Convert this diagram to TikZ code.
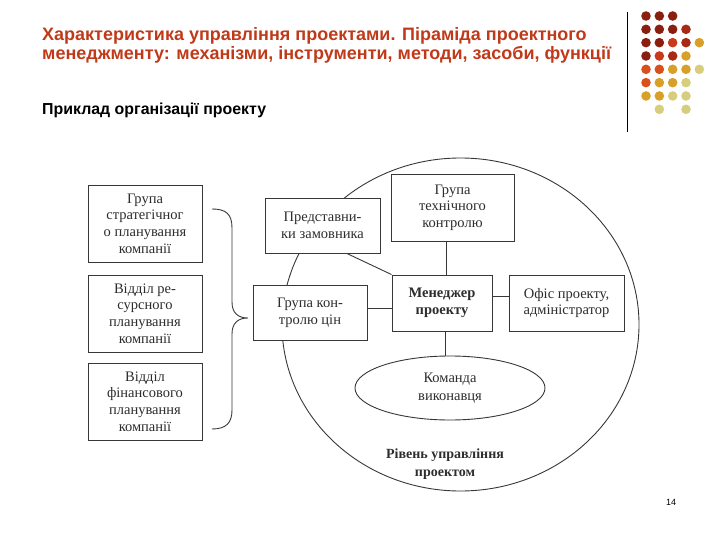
\documentclass[tikz,border=0pt]{standalone}
\usepackage{fontspec}
\setmainfont{Liberation Serif}
\newfontfamily\ttlfont{Liberation Sans}
\usetikzlibrary{calc,shapes.geometric}
\definecolor{ttlred}{RGB}{192,58,26}
\definecolor{lc}{RGB}{55,55,55}
\definecolor{tc}{RGB}{45,45,45}
\definecolor{dA}{RGB}{138,30,15}
\definecolor{dB}{RGB}{168,42,20}
\definecolor{dC}{RGB}{200,58,26}
\definecolor{dD}{RGB}{216,80,28}
\definecolor{dE}{RGB}{216,160,40}
\definecolor{dF}{RGB}{214,206,126}
\tikzset{
  box/.style={draw=lc, line width=0.9pt, fill=white, align=center, text=tc,
    font=\fontsize{14.5}{16.7}\selectfont, inner sep=0pt},
  conn/.style={draw=lc, line width=0.9pt},
  dot/.style={circle, inner sep=0pt, minimum size=9.6pt},
  ttl/.style={anchor=base west, text=ttlred, font=\ttlfont\bfseries\fontsize{18}{20}\selectfont, inner sep=0pt},
}
\begin{document}
\begin{tikzpicture}[x=1pt,y=-1pt]
\useasboundingbox (0,0) rectangle (720,540);
% title
\node[ttl] (t1) at (42,40.5) {Характеристика управління проектами. Піраміда проектного};
\node[ttl] (t2) at (42,59.5) {менеджменту: механізми, інструменти, методи, засоби, функції};
\node[anchor=base west, text=black, font=\ttlfont\bfseries\fontsize{15.9}{18}\selectfont, inner sep=0pt] (sub) at (42,115) {Приклад організації проекту};
\node[anchor=center, text=black, font=\ttlfont\fontsize{9}{11}\selectfont, inner sep=0pt] (pg) at (671,502) {14};
% vertical line
\coordinate (v1) at (627,12);
\coordinate (v2) at (627,132);
\draw[line width=1pt] (v1) -- (v2);
% dots
\foreach \r/\cols in {1/{1/dA,2/dA,3/dA},
                      2/{1/dA,2/dA,3/dA,4/dB},
                      3/{1/dA,2/dA,3/dC,4/dB,5/dE},
                      4/{1/dA,2/dC,3/dB,4/dE},
                      5/{1/dD,2/dD,3/dE,4/dE,5/dF},
                      6/{1/dD,2/dE,3/dE,4/dF},
                      7/{1/dE,2/dE,3/dF,4/dF},
                      8/{2/dF,4/dF}}{
  \foreach \c/\col in \cols {
    \node[dot, fill=\col] (d\r\c) at ({646+13.33*(\c-1)},{16+13.33*(\r-1)}) {};
  }
}
% big circle
\draw[lc, line width=0.9pt] (460.5,324.5) ellipse [x radius=178.5, y radius=166.5];
% left boxes
\node[box, minimum width=114pt, minimum height=77pt] (b1) at (145,223.5) {Група\\стратегічног\\о планування\\компанії};
\node[box, minimum width=114pt, minimum height=77pt] (b2) at (145,313.5) {Відділ ре-\\сурсного\\планування\\компанії};
\node[box, minimum width=114pt, minimum height=77pt] (b3) at (145,401.5) {Відділ\\фінансового\\планування\\компанії};
% brace
\draw[lc, line width=0.9pt] (212,209) .. controls (226,209) and (232,214) .. (232,228) -- (232,302)
  .. controls (232,313) and (238,318) .. (248,318)
  .. controls (238,318) and (232,323) .. (232,334) -- (232,410)
  .. controls (232,423) and (226,429) .. (212,429);
% inner boxes
\node[box, minimum width=115pt, minimum height=55pt] (pred) at (322.5,225.5) {Представни-\\ки замовника};
\node[box, minimum width=114pt, minimum height=55pt] (kontr) at (310,312.5) {Група кон-\\тролю цін};
\node[box, minimum width=123pt, minimum height=67pt] (tech) at (452.5,207.5) {Група\\технічного\\контролю};
\node[box, minimum width=100pt, minimum height=56pt, font=\bfseries\fontsize{14.5}{16.7}\selectfont] (men) at (442,303) {Менеджер\\проекту};
\node[box, minimum width=115pt, minimum height=56pt] (ofis) at (566.5,303) {Офіс проекту,\\адміністратор};
\node[box, ellipse, minimum width=190pt, minimum height=64pt, font=\fontsize{14.5}{18}\selectfont] (team) at (450,388) {Команда\\виконавця};
\node[align=center, text=tc, font=\bfseries\fontsize{14}{18}\selectfont, inner sep=0pt] (lvl) at (445,464) {Рівень управління\\проектом};
% connectors
\coordinate (xa) at (446.7,0);
\coordinate (xb) at (445.7,0);
\coordinate (ya) at (0,308);
\coordinate (yb) at (0,296.7);
\draw[conn] ($(pred.south west)!0.71!(pred.south east)$) -- (men.north west);
\draw[conn] (xa |- tech.south) -- (xa |- men.north);
\draw[conn] (kontr.east |- ya) -- (men.west |- ya);
\draw[conn] (men.east |- yb) -- (ofis.west |- yb);
\draw[conn] (xb |- men.south) -- (xb |- team.north);
\end{tikzpicture}
\end{document}
